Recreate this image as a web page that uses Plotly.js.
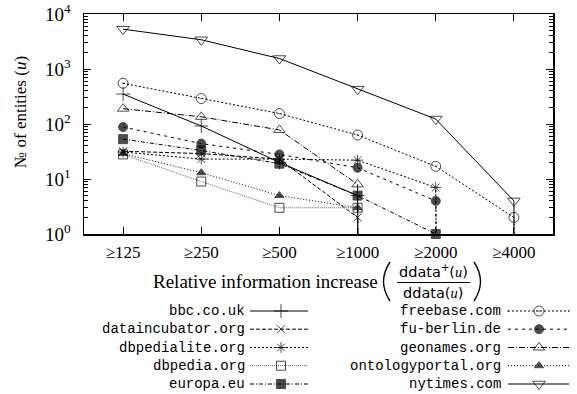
<!DOCTYPE html>
<html>
<head>
<meta charset="utf-8">
<script src="https://cdn.plot.ly/plotly-3.0.1.min.js"></script>
<style>html,body{margin:0;padding:0;background:#fff;}#chart{width:577px;height:394px;}</style>
</head>
<body>
<div id="chart"></div>
<script>
// ---- data ----
// last bin is beyond the drawn x range; zeros make gnuplot-style vertical drops
const categories = ['≥125', '≥250', '≥500', '≥1000', '≥2000', '≥4000', '≥8000'];
const bbc        = [350, 92, 20, 5, 0, 0, 0];
const datainc    = [32, 29, 23, 2, 0, 0, 0];
const dbpedialite= [31, 23, 23, 22, 7, 0, 0];
const dbpedia    = [28, 9, 3, 3, 0, 0, 0];
const europa     = [53, 33, 19, 5, 1, 0, 0];
const freebase   = [550, 290, 155, 63, 17, 2, 0];
const fuberlin   = [88, 44, 28, 16, 4, 0, 0];
const geonames   = [190, 135, 78, 8, 0, 0, 0];
const ontology   = [29, 13, 5, 3, 0, 0, 0];
const nytimes    = [5300, 3400, 1550, 430, 123, 4, 0];
const seriesNames = ['bbc.co.uk', 'dataincubator.org', 'dbpedialite.org', 'dbpedia.org', 'europa.eu',
                     'freebase.com', 'fu-berlin.de', 'geonames.org', 'ontologyportal.org', 'nytimes.com'];
const seriesValues = [bbc, datainc, dbpedialite, dbpedia, europa, freebase, fuberlin, geonames, ontology, nytimes];
const yTickVals = [1, 10, 100, 1000, 10000];
const yTickText = ['10<sup>0</sup>', '10<sup>1</sup>', '10<sup>2</sup>', '10<sup>3</sup>', '10<sup>4</sup>'];

// ---- styles ----
const styles = [
  {symbol: 'cross-thin-open',   dash: 'solid',             color: '#000', size: 10},
  {symbol: 'x-thin-open',       dash: '4px,2px',           color: '#000', size: 8},
  {symbol: 'asterisk-open',     dash: '2px,2px',           color: '#000', size: 9},
  {symbol: 'square-open',       dash: '1px,1px',           color: '#666', size: 9},
  {symbol: 'square',            dash: '4px,2px,1px,2px',   color: '#000', size: 9},
  {symbol: 'circle-open-dot',   dash: '2px,2px',           color: '#000', size: 10},
  {symbol: 'circle',            dash: '3px,4px',           color: '#000', size: 9},
  {symbol: 'triangle-up-open',  dash: '6px,2px,1px,2px',   color: '#000', size: 10},
  {symbol: 'triangle-up',       dash: '1px,2px',           color: '#000', size: 8},
  {symbol: 'triangle-down-open',dash: 'solid',             color: '#000', size: 11}
];

const W = 577, H = 394;
const PL = 84, PR = 553, PT = 14, PB = 234;
const SERIF = 'Liberation Serif, Times New Roman, serif';
const MONO = 'Liberation Mono, Courier New, monospace';
const SANS = 'DejaVu Sans, sans-serif';

const traces = [];
seriesValues.forEach((vals, i) => {
  const st = styles[i];
  traces.push({
    type: 'scatter', mode: 'lines+markers', name: seriesNames[i],
    x: categories, y: vals.map(v => v > 0 ? v : 1e-300),
    xaxis: 'x', yaxis: 'y', cliponaxis: false, showlegend: false,
    line: {color: st.color, width: 1, dash: st.dash},
    marker: {symbol: st.symbol, size: vals.map(v => v > 0 ? st.size : 0), color: '#000',
             line: {color: '#000', width: 1}}
  });
});

// ---- custom legend (text then sample, gnuplot style) ----
const annotations = [];
const rowY = [311, 329.2, 347.5, 365.7, 384];
const cols = [
  {textRight: 247, x0: 250, xm: 281, x1: 308},
  {textRight: 503, x0: 508, xm: 539, x1: 569}
];
seriesNames.forEach((nm, i) => {
  const c = cols[Math.floor(i / 5)], r = rowY[i % 5], st = styles[i];
  annotations.push({xref: 'x2', yref: 'y2', x: c.textRight, y: r, xanchor: 'right', yanchor: 'middle',
    text: nm, showarrow: false, font: {family: MONO, size: 14, color: '#000'}});
  traces.push({
    type: 'scatter', mode: 'lines+markers', x: [c.x0, c.xm, c.x1], y: [r, r, r],
    xaxis: 'x2', yaxis: 'y2', showlegend: false, hoverinfo: 'skip', cliponaxis: false,
    line: {color: st.color, width: 1, dash: st.dash},
    marker: {symbol: st.symbol, size: [0, st.size, 0], color: '#000', line: {color: '#000', width: 1}}
  });
});

// y title
annotations.push({xref: 'x2', yref: 'y2', x: 20, y: 112, textangle: -90, showarrow: false,
  text: '№ of entities (<i>u</i>)', font: {family: SERIF, size: 17, color: '#000'}});
// x title
annotations.push({xref: 'x2', yref: 'y2', x: 380, y: 281, xanchor: 'right', yanchor: 'middle', showarrow: false,
  text: 'Relative information increase', font: {family: SERIF, size: 19, color: '#000'}});
annotations.push({xref: 'x2', yref: 'y2', x: 433, y: 271, xanchor: 'center', yanchor: 'middle', showarrow: false,
  text: 'ddata<sup>+</sup>(<span style="font-family:Liberation Serif"><i>u</i></span>)', font: {family: SANS, size: 14.5, color: '#000'}});
annotations.push({xref: 'x2', yref: 'y2', x: 433, y: 293, xanchor: 'center', yanchor: 'middle', showarrow: false,
  text: 'ddata(<span style="font-family:Liberation Serif"><i>u</i></span>)', font: {family: SANS, size: 14.5, color: '#000'}});

const shapes = [
  {type: 'line', xref: 'x2', yref: 'y2', x0: 397, x1: 470, y0: 282.5, y1: 282.5, line: {color: '#000', width: 1}},
  {type: 'path', xref: 'x2', yref: 'y2', path: 'M 390 262 Q 377 281.5 390 301', line: {color: '#000', width: 1.4}},
  {type: 'path', xref: 'x2', yref: 'y2', path: 'M 474 262 Q 487 281.5 474 301', line: {color: '#000', width: 1.4}}
];

const minorVals = [];
for (let e = 0; e < 4; e++) for (let d = 2; d <= 9; d++) minorVals.push(d * Math.pow(10, e));

const layout = {
  width: W, height: H,
  margin: {l: 0, r: 0, t: 0, b: 0, pad: 0},
  paper_bgcolor: '#fff', plot_bgcolor: 'rgba(0,0,0,0)',
  showlegend: false,
  font: {family: SERIF, size: 16, color: '#000'},
  xaxis: {
    domain: [PL / W, PR / W], anchor: 'y', type: 'category',
    range: [-0.5, 5.5], showgrid: false, zeroline: false,
    showline: true, linecolor: '#000', linewidth: 1.5, mirror: 'ticks',
    ticks: 'inside', ticklen: 7, tickwidth: 1, tickcolor: '#000',
    tickfont: {family: SERIF, size: 17, color: '#000'}, ticklabelstandoff: 2,
    fixedrange: true
  },
  yaxis: {
    domain: [1 - PB / H, 1 - PT / H], anchor: 'x', type: 'log',
    range: [0, 4], showgrid: false, zeroline: false,
    showline: true, linecolor: '#000', linewidth: 1.5, mirror: 'ticks',
    ticks: 'inside', ticklen: 7, tickwidth: 1, tickcolor: '#000',
    tickmode: 'array', tickvals: yTickVals, ticktext: yTickText,
    tickfont: {family: SERIF, size: 19, color: '#000'}, ticklabelstandoff: 8,
    minor: {tickmode: 'array', tickvals: minorVals, ticks: 'inside', ticklen: 4, tickwidth: 1,
            tickcolor: '#000', showgrid: false},
    fixedrange: true
  },
  xaxis2: {domain: [0, 1], anchor: 'y2', range: [0, W], visible: false, fixedrange: true},
  yaxis2: {domain: [0, 1], anchor: 'x2', range: [H, 0], visible: false, fixedrange: true},
  annotations: annotations,
  shapes: shapes
};

Plotly.newPlot('chart', traces, layout, {staticPlot: true, displayModeBar: false});
</script>
</body>
</html>
